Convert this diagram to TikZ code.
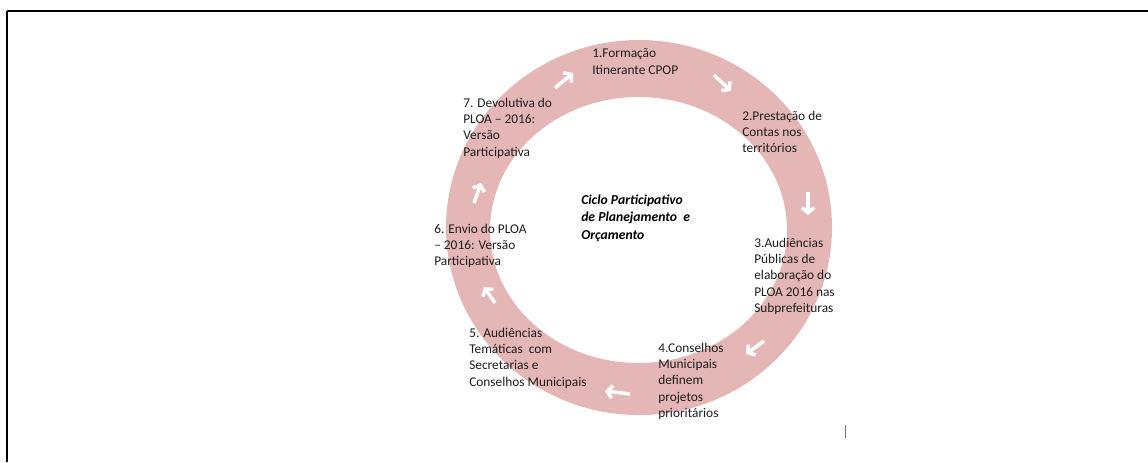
\documentclass[tikz,border=0pt]{standalone}
\usepackage{fontspec}
\setmainfont{Carlito}
\usepackage{tikz}
\usetikzlibrary{arrows.meta}

\definecolor{ringpink}{RGB}{229,182,182}
\definecolor{textgray}{RGB}{30,30,30}

\begin{document}
\begin{tikzpicture}[x=0.025cm, y=-0.025cm,
    stagetext/.style={align=left, anchor=north west, inner sep=0pt, text=textgray,
        font=\fontsize{9.5}{11.7}\selectfont},
    cyclearrow/.style={white, line width=2.5pt, -{Straight Barb[length=3.6pt, width=9pt]}}]
    \useasboundingbox (0,0) rectangle (1148,462);

    % frame of the page
    \draw[line width=1.5pt] (7,11) -- (1148,11);
    \draw[line width=1pt] (7,11) -- (7,462);

    % the ring
    \fill[ringpink, even odd rule] (639,227.5) ellipse [x radius=193, y radius=187.5]
        (638.5,230) ellipse [x radius=148.5, y radius=133];

    % arrows along the ring
    \foreach \xa/\ya/\xb/\yb in {555/88/573/73, 714/75/731/91, 808/192/808/215,
        764/341/746/354, 630/394/605/391, 495/303/484/287, 474/203/481/183}
        \draw[cyclearrow] (\xa,\ya) -- (\xb,\yb);

    % stages
    \node[stagetext] (step1) at (592,48.5) {1.Formação\\Itinerante CPOP};
    \node[stagetext] (step2) at (742,110.5) {2.Prestação de\\Contas nos\\territórios};
    \node[stagetext] (step3) at (754,237.5) {3.Audiências\\Públicas de\\elaboração do\\PLOA 2016 nas\\Subprefeituras};
    \node[stagetext] (step4) at (658,342.5) {4.Conselhos\\Municipais\\definem\\projetos\\prioritários};
    \node[stagetext] (step5) at (469,327.5) {5. Audiências\\Temáticas\ \ com\\Secretarias e\\Conselhos Municipais};
    \node[stagetext] (step6) at (434,223.5) {6. Envio do PLOA\\– 2016: Versão\\Participativa};
    \node[stagetext] (step7) at (463,97.5) {7. Devolutiva do\\PLOA – 2016:\\Versão\\Participativa};

    \node[stagetext, text=black, font=\bfseries\itshape\fontsize{9.7}{12.4}\selectfont] (ciclo) at (581,194.5)
        {Ciclo Participativo\\de Planejamento\ \ e\\Orçamento};

    % cursor mark
    \draw[black!55, line width=0.5pt] (845,425) -- (845,438);
\end{tikzpicture}
\end{document}
